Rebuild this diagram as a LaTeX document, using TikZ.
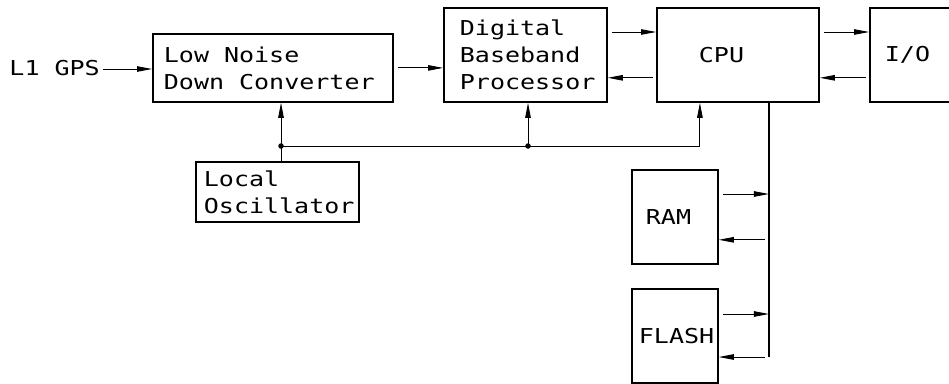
\documentclass[tikz,border=0pt]{standalone}
\usepackage{fontspec}
\newfontfamily\cadfont[FakeStretch=1.22]{DejaVu Sans Mono}
\newcommand\cadsize{\fontsize{20.5}{27}\selectfont}
\usetikzlibrary{
	arrows.meta,
	positioning,
	calc
}

\begin{document}
\begin{tikzpicture}[
				x=1pt, y=-1pt,
				block/.style={
					rectangle, draw, line width=1.8pt,
					anchor=north west, align=left,
					inner ysep=0pt,
					font=\cadfont\cadsize,
					execute at begin node={\spaceskip=15pt\xspaceskip=15pt\relax}
				},
				label/.style={
					font=\cadfont\cadsize
				},
				arrow/.style={-{Triangle[length=15pt,width=5.5pt]}, line width=0.9pt, black},
				wire/.style={line width=0.9pt, black},
				bus/.style={line width=1.6pt, black},
				dot/.style={circle, fill=black, inner sep=0pt, minimum size=5.5pt}
				]
				
				\useasboundingbox (0,0) rectangle (949,383);
				
				% Input label
				\node[label, anchor=east, inner sep=0pt] (gps) at (100,68) {L1 GPS};
				
				% low noise down converter
				\node[block, text width=218pt, inner xsep=11pt, minimum height=68pt] (lnc) at (152,33)
					{Low Noise\\Down Converter};
				
				% digital baseband processor
				\node[block, text width=131pt, inner xsep=16pt, minimum height=94pt] (dbp) at (443,7)
					{Digital\\Baseband\\Processor};
				
				% CPU
				\node[block, text width=78pt, inner xsep=42pt, minimum height=94pt] (cpu) at (656,7) {CPU};
				
				% I/O (cut off at the right)
				\node[block, text width=68pt, inner xsep=15pt, minimum height=94pt] (io) at (869,7) {I/O};
				
				% local oscillator
				\node[block, text width=147pt, inner xsep=8pt, minimum height=60pt] (lo) at (195,161)
					{Local\\Oscillator};
				
				% memories
				\node[block, text width=58pt, inner xsep=14pt, minimum height=94pt] (ram) at (631,169) {RAM};
				\node[block, text width=72pt, inner xsep=7pt, minimum height=94pt] (flash) at (631,288) {FLASH};
				
				% bus and junctions
				\coordinate (busTop) at ([xshift=31pt]cpu.south);
				\coordinate (busEnd) at (busTop |- 0,357);
				\coordinate (j1) at (281,146);
				\coordinate (j2) at (528,146);
				
				% signal chain
				\draw[arrow, shorten <=3pt] ([yshift=-1pt]gps.east) -- ([yshift=-1pt]gps.east -| lnc.west);
				\draw[arrow, shorten <=4pt] (lnc.east) -- (lnc.east -| dbp.west);
				\draw[arrow, shorten <=4pt] ([yshift=-25pt]dbp.north east) -- ([yshift=-25pt]cpu.north west);
				\draw[arrow, shorten <=3pt] ([yshift=25pt]cpu.south west) -- ([yshift=25pt]dbp.south east);
				\draw[arrow, shorten <=4pt] ([yshift=-25pt]cpu.north east) -- ([yshift=-25pt]io.north west);
				\draw[arrow, shorten <=3pt] ([yshift=25pt]io.south west) -- ([yshift=25pt]cpu.south east);
				
				% oscillator distribution
				\draw[wire] (j1 |- lo.north) -- (j1);
				\draw[arrow] (j1) -- (j1 |- lnc.south);
				\draw[arrow] (j2) -- (j2 |- dbp.south);
				\draw[arrow] (j1) -| ([xshift=-38pt]cpu.south);
				\node[dot] (d1) at (j1) {};
				\node[dot] (d2) at (j2) {};
				
				% memory bus
				\draw[bus] (busTop) -- (busEnd);
				\draw[arrow, shorten <=4pt] ([yshift=-25pt]ram.north east) -- ([yshift=-25pt]ram.north east -| busTop);
				\draw[arrow, shorten <=4pt] ([yshift=25pt]ram.south east -| busTop) -- ([yshift=25pt]ram.south east);
				\draw[arrow, shorten <=4pt] ([yshift=-26pt]flash.north east) -- ([yshift=-26pt]flash.north east -| busTop);
				\draw[arrow, shorten <=4pt] (busEnd) -- (busEnd -| flash.east);
			\end{tikzpicture}
\end{document}
